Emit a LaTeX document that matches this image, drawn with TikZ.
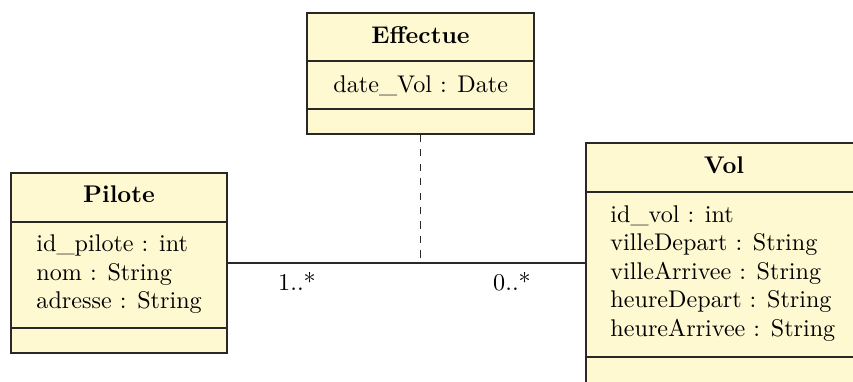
\documentclass[tikz,border=0pt]{standalone}
\usetikzlibrary{fit}
\definecolor{classfill}{RGB}{255,249,210}
\definecolor{classline}{RGB}{40,40,40}
\begin{document}
\begin{tikzpicture}[x=0.4145pt, y=-0.4145pt,
  classbox/.style={draw=classline, fill=classfill, inner sep=0pt, line width=0.5pt},
  sepline/.style={draw=classline, line width=0.5pt},
  title/.style={anchor=base, inner sep=0pt, font=\bfseries},
  attr/.style={anchor=base west, inner sep=0pt},
  mult/.style={anchor=base, inner sep=0pt},
  assoc/.style={draw=classline, line width=0.5pt},
  assocclass/.style={draw=classline, dashed, line width=0.5pt}]
\useasboundingbox (0,0) rectangle (853,381);

% Effectue
\node[classbox, fit={(307,13) (534,134)}] (effectue) {};
\draw[sepline] (307,61) -- (534,61);
\draw[sepline] (307,109) -- (534,109);
\node[title] (effectueT) at (420.5,43) {Effectue};
\node[attr] (effectueA1) at (333,92) {date\_Vol : Date};

% Pilote
\node[classbox, fit={(11,173) (227,353)}] (pilote) {};
\draw[sepline] (11,222) -- (227,222);
\draw[sepline] (11,328) -- (227,328);
\node[title] (piloteT) at (119,202) {Pilote};
\node[attr] (piloteA1) at (36,251.5) {id\_pilote : int};
\node[attr] (piloteA2) at (36,280) {nom : String};
\node[attr] (piloteA3) at (36,308.5) {adresse : String};

% Vol
\node[classbox, fit={(586,143) (862,383)}] (vol) {};
\draw[sepline] (586,192) -- (862,192);
\draw[sepline] (586,357) -- (862,357);
\node[title] (volT) at (724,173) {Vol};
\node[attr] (volA1) at (610,222) {id\_vol : int};
\node[attr] (volA2) at (610,250.5) {villeDepart : String};
\node[attr] (volA3) at (610,279) {villeArrivee : String};
\node[attr] (volA4) at (610,307.5) {heureDepart : String};
\node[attr] (volA5) at (610,336) {heureArrivee : String};

% association
\draw[assoc] (pilote.east) -- (pilote.east -| vol.west);
\coordinate (assocpt) at (effectue.south |- pilote.east);
\draw[assocclass] (effectue.south) -- (assocpt);
\node[mult] (m1) at (297,290) {1..*};
\node[mult] (m2) at (512,290) {0..*};
\end{tikzpicture}
\end{document}
